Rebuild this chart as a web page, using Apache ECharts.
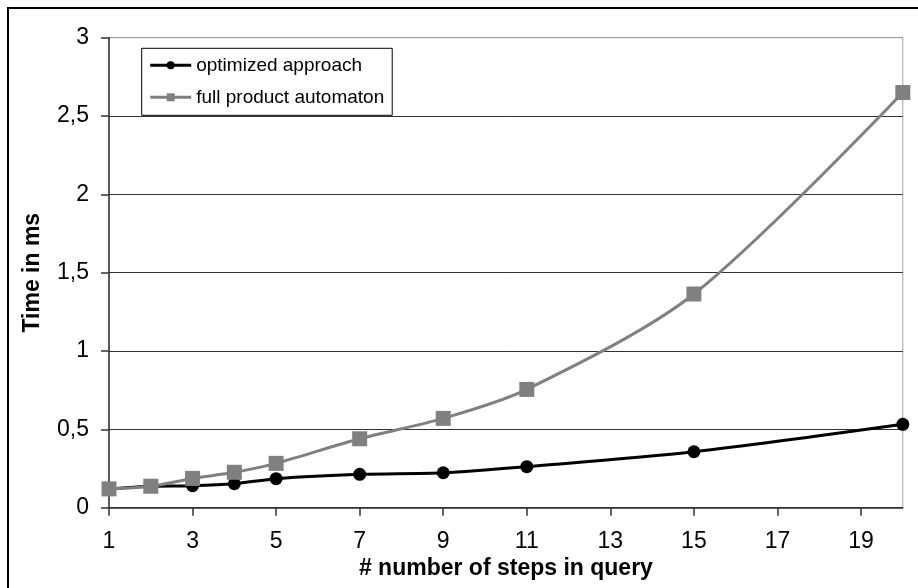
<!DOCTYPE html>
<html>
<head>
<meta charset="utf-8">
<script src="https://cdn.jsdelivr.net/npm/echarts@6/dist/echarts.min.js"></script>
<style>html,body{margin:0;padding:0;background:#fff}#c{width:918px;height:588px}</style>
</head>
<body>
<div id="c"></div>
<script>
const steps = [1, 2, 3, 4, 5, 7, 9, 11, 15, 20];
const optimized = [0.12, 0.137, 0.14, 0.153, 0.185, 0.213, 0.223, 0.262, 0.357, 0.532];
const fullProduct = [0.12, 0.137, 0.187, 0.226, 0.283, 0.44, 0.57, 0.755, 1.364, 2.65];
const xTickLabels = [1, 3, 5, 7, 9, 11, 13, 15, 17, 19];
const seriesNames = ['optimized approach', 'full product automaton'];

const FONT = '"Liberation Sans", Arial, sans-serif';
const chart = echarts.init(document.getElementById('c'), null, {renderer: 'canvas'});
const pair = (xs, ys) => xs.map((x, i) => [x, ys[i]]);

chart.setOption({
  animation: false,
  backgroundColor: '#fff',
  grid: {left: 109, top: 37.7, width: 793.8, height: 470, show: true,
         borderColor: '#a0a0a0', borderWidth: 1, backgroundColor: '#fff'},
  graphic: [{type: 'rect', silent: true, z: 100,
             shape: {x: 8, y: 8, width: 1000, height: 1000},
             style: {fill: 'none', stroke: '#000', lineWidth: 2}}],
  legend: {
    orient: 'vertical', left: 141.7, top: 48.3,
    padding: [6, 8, 7, 7], borderColor: '#000', borderWidth: 1, backgroundColor: '#fff',
    itemWidth: 41, itemHeight: 10, itemGap: 10,
    lineStyle: {width: 3},
    textStyle: {fontFamily: FONT, fontSize: 19, color: '#000', lineHeight: 22},
    data: seriesNames
  },
  xAxis: {
    type: 'value', min: 1, max: 20,
    name: '# number of steps in query', nameLocation: 'middle', nameGap: 43,
    nameTextStyle: {fontFamily: FONT, fontSize: 23, fontWeight: 'bold', color: '#000'},
    axisLine: {lineStyle: {color: '#333', width: 1.5}},
    axisTick: {customValues: xTickLabels, length: 8, lineStyle: {color: '#333', width: 1.5}},
    axisLabel: {customValues: xTickLabels, fontFamily: FONT, fontSize: 23, color: '#000', margin: 22},
    splitLine: {show: false}
  },
  yAxis: {
    type: 'value', min: 0, max: 3, interval: 0.5,
    name: 'Time in ms', nameLocation: 'middle', nameGap: 65, nameRotate: 90,
    nameTextStyle: {fontFamily: FONT, fontSize: 23, fontWeight: 'bold', color: '#000'},
    axisLine: {show: true, lineStyle: {color: '#333', width: 1.5}},
    axisTick: {show: true, length: 8, lineStyle: {color: '#333', width: 1.5}},
    axisLabel: {fontFamily: FONT, fontSize: 23, color: '#000', margin: 20,
                formatter: v => String(v).replace('.', ',')},
    splitLine: {show: true, lineStyle: {color: ['#333', '#333', '#333', '#333', '#333', '#333', '#a0a0a0'], width: 1}}
  },
  series: [
    {name: seriesNames[0], type: 'line', data: pair(steps, optimized),
     smooth: 0.3,
     symbol: 'circle', symbolSize: 13, showSymbol: true,
     lineStyle: {color: '#000', width: 3}, itemStyle: {color: '#000'}},
    {name: seriesNames[1], type: 'line', data: pair(steps, fullProduct),
     smooth: 0.3,
     symbol: 'rect', symbolSize: 15, showSymbol: true,
     lineStyle: {color: '#808080', width: 3}, itemStyle: {color: '#808080'}}
  ]
});
</script>
</body>
</html>
